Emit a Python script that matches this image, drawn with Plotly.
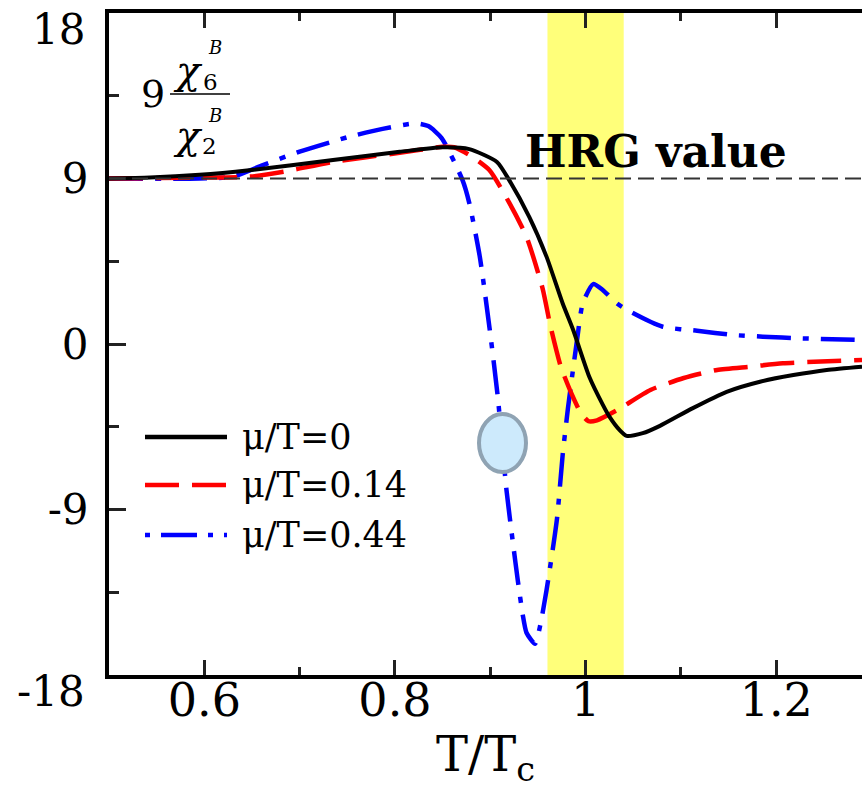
import plotly.graph_objects as go

# ---- data: ratio 9*chi6/chi2 vs T/Tc for three values of mu/T ----
t_mu0 = [0.50, 0.543, 0.595, 0.647, 0.735, 0.805, 0.850, 0.878, 0.907, 0.920, 0.941,
         0.959, 0.976, 0.987, 1.004, 1.018, 1.025, 1.036, 1.043, 1.060, 1.078, 1.112,
         1.148, 1.183, 1.218, 1.253, 1.290]
chi_mu0 = [9.0, 9.05, 9.2, 9.45, 10.0, 10.45, 10.7, 10.6, 9.9, 8.9, 6.9,
           4.75, 2.2, 0.76, -1.8, -3.3, -3.95, -4.7, -5.0, -4.85, -4.45, -3.5,
           -2.6, -2.05, -1.69, -1.41, -1.23]

t_mu014 = [0.50, 0.595, 0.647, 0.683, 0.735, 0.805, 0.850, 0.862, 0.878, 0.899, 0.920,
           0.938, 0.955, 0.963, 0.974, 0.985, 0.995, 1.003, 1.012, 1.033,
           1.068, 1.103, 1.138, 1.173, 1.207, 1.290]
chi_mu014 = [9.0, 9.05, 9.1, 9.37, 9.9, 10.4, 10.72, 10.7, 10.28, 9.46, 7.67,
             5.83, 3.0, 1.0, -1.23, -2.67, -3.75, -4.2, -4.15, -3.6,
             -2.5, -1.85, -1.41, -1.23, -1.05, -0.87]

t_mu044 = [0.50, 0.595, 0.630, 0.660, 0.700, 0.752, 0.787, 0.822, 0.835, 0.849,
           0.871, 0.878, 0.889, 0.8995, 0.908, 0.917, 0.924, 0.929, 0.934, 0.938,
           0.947, 0.952, 0.959, 0.970, 0.976, 0.9815, 0.986, 0.991, 0.997,
           1.008, 1.018, 1.033, 1.049, 1.081, 1.117, 1.155, 1.186, 1.225, 1.290]
chi_mu044 = [9.0, 9.0, 9.1, 9.7, 10.46, 11.27, 11.7, 12.0, 11.85, 11.2,
             8.9, 7.66, 4.75, 0.76, -2.94, -7.94, -10.9, -12.9, -14.7, -15.7,
             -16.3, -15.4, -13.4, -9.5, -6.0, -3.5, -1.7, 0.2, 2.2,
             3.26, 2.94, 2.2, 1.7, 0.94, 0.72, 0.49, 0.4, 0.31, 0.22]

hrg_value = 9
band_lo, band_hi = 0.96, 1.04

x_ticks = [0.6, 0.8, 1.0, 1.2]
x_ticktext = ["0.6", "0.8", "1", "1.2"]
x_minor = [0.7, 0.9, 1.1]
y_ticks = [-9, 0, 9]
y_ticktext = ["-9", "0", "9"]
y_edge_ticks = [18, -18]
y_edge_text = ["18", "-18"]
y_minor = [-13.5, -4.5, 4.5, 13.5]

legend_labels = ["\u03bc/T=0", "\u03bc/T=0.14", "\u03bc/T=0.44"]

# ---- layout geometry (pixels) ----
W, H = 862, 797
ML, MR, MT, MB = 109, 0, 13, 122
PW, PH = W - ML - MR, H - MT - MB

def px(xp):
    return (xp - ML) / PW

def py(yp):
    return (H - MB - yp) / PH

SERIF = "DejaVu Serif"

fig = go.Figure()

styles = [
    dict(color="black", width=4, dash="solid"),
    dict(color="#ff0000", width=4.5, dash="34px,13px"),
    dict(color="#0000ff", width=4.5, dash="34px,12px,6px,12px"),
]
series = [(t_mu0, chi_mu0), (t_mu014, chi_mu014), (t_mu044, chi_mu044)]
# blue first so that black and red sit on top where they cross
for idx in [2, 1, 0]:
    tx, ty = series[idx]
    fig.add_trace(go.Scatter(
        x=tx, y=ty, mode="lines", name=legend_labels[idx],
        line=dict(shape="spline", smoothing=0.6, **styles[idx]),
        showlegend=False, hoverinfo="skip",
    ))

shapes = []
# transition band
shapes.append(dict(type="rect", xref="x", yref="paper", x0=band_lo, x1=band_hi,
                   y0=0, y1=1, fillcolor="rgba(255,255,40,0.62)", line_width=0,
                   layer="below"))
# HRG reference level
shapes.append(dict(type="line", xref="paper", yref="y", x0=0, x1=1,
                   y0=hrg_value, y1=hrg_value,
                   line=dict(color="#333333", width=2, dash="16px,7px"),
                   layer="above"))
# marker ellipse
shapes.append(dict(type="circle", xref="paper", yref="paper",
                   x0=px(479), x1=px(526), y0=py(472), y1=py(414),
                   fillcolor="#cdeafc", line=dict(color="#8fa3b3", width=4)))

# legend samples
leg_y = [437, 485, 535]
leg_dash = ["solid", "34px,13px", "5px,11px,36px,11px"]
leg_col = ["black", "#ff0000", "#0000ff"]
for yy, dd, cc in zip(leg_y, leg_dash, leg_col):
    shapes.append(dict(type="line", xref="paper", yref="paper",
                       x0=px(145), x1=px(227), y0=py(yy), y1=py(yy),
                       line=dict(color=cc, width=4.5, dash=dd)))

# fraction bar of the quantity label
shapes.append(dict(type="line", xref="paper", yref="paper",
                   x0=px(170), x1=px(230), y0=py(94), y1=py(94),
                   line=dict(color="black", width=1.5)))

annotations = []
for yy, lab in zip(leg_y, legend_labels):
    annotations.append(dict(x=px(240), y=py(yy), xref="paper", yref="paper",
                            text=lab, showarrow=False, xanchor="left",
                            yanchor="middle",
                            font=dict(family=SERIF, size=35, color="black")))

annotations.append(dict(x=px(523), y=py(151), xref="paper", yref="paper",
                        text="<b>HRG value</b>", showarrow=False,
                        xanchor="left", yanchor="middle",
                        font=dict(family=SERIF, size=44, color="black")))

# labels at the ends of the y axis
for val, t in zip(y_edge_ticks, y_edge_text):
    annotations.append(dict(x=0, y=val, xref="paper", yref="y", text=t,
                            showarrow=False, xanchor="right", yanchor="middle",
                            xshift=-22, yshift=-16,
                            font=dict(family=SERIF, size=42, color="black")))

# quantity label: 9 chi6^B / chi2^B
def txt(x, y, s, size, italic=False):
    if italic:
        s = "<i>" + s + "</i>"
    annotations.append(dict(x=px(x), y=py(y), xref="paper", yref="paper",
                            text=s, showarrow=False, xanchor="center",
                            yanchor="middle",
                            font=dict(family=SERIF, size=size, color="black")))

txt(153, 94, "9", 38)
txt(188, 70, "\u03c7", 40, italic=True)
txt(210, 82, "6", 23)
txt(215, 48, "B", 18, italic=True)
txt(188, 135, "\u03c7", 40, italic=True)
txt(209, 146, "2", 23)
txt(215, 115, "B", 18, italic=True)

fig.update_layout(
    width=W, height=H,
    margin=dict(l=ML, r=MR, t=MT, b=MB),
    paper_bgcolor="white", plot_bgcolor="white",
    shapes=shapes, annotations=annotations,
    showlegend=False,
    xaxis=dict(
        range=[0.5, 1.29], showgrid=False, zeroline=False,
        showline=True, linecolor="black", linewidth=4, mirror="ticks",
        ticks="inside", ticklen=15, tickwidth=2.5, tickcolor="#222",
        tickvals=x_ticks, ticktext=x_ticktext,
        minor=dict(tickvals=x_minor, ticks="inside", ticklen=8,
                   tickwidth=2.5, tickcolor="#222"),
        tickfont=dict(family=SERIF, size=46, color="black"),
        ticklabelstandoff=-18,
        title=dict(text="T/T<sub>c</sub>", standoff=12,
                   font=dict(family=SERIF, size=48, color="black")),
    ),
    yaxis=dict(
        range=[-18, 18], showgrid=False, zeroline=False,
        showline=True, linecolor="black", linewidth=4, mirror=False,
        ticks="inside", ticklen=17, tickwidth=2.5, tickcolor="#222",
        tickvals=y_ticks, ticktext=y_ticktext,
        minor=dict(tickvals=y_minor, ticks="inside", ticklen=10,
                   tickwidth=2.5, tickcolor="#222"),
        tickfont=dict(family=SERIF, size=42, color="black"),
        ticklabelstandoff=8,
    ),
)

fig.write_html("out.html")
